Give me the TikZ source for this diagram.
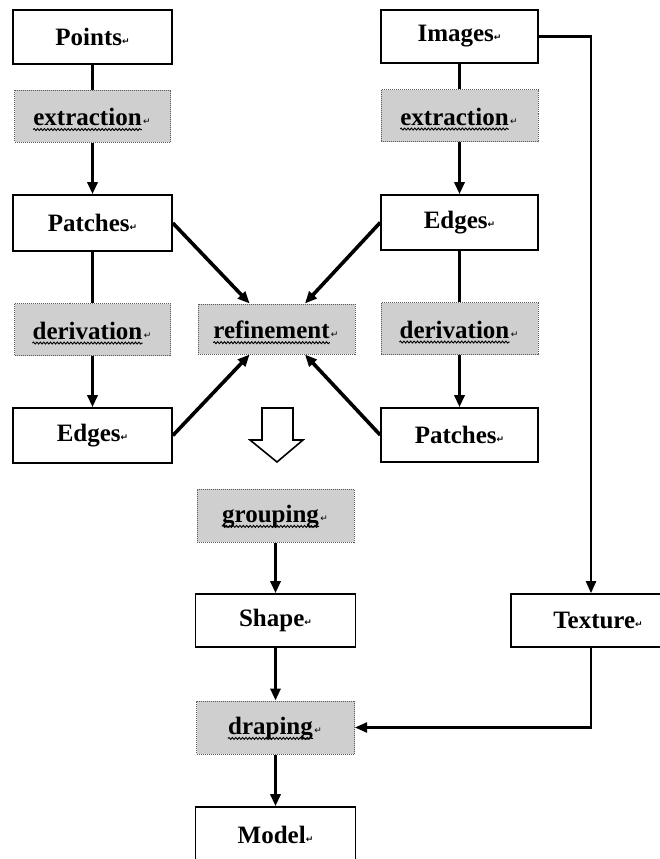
\documentclass[tikz,border=0pt]{standalone}
\usepackage{fontspec}
\setmainfont{Liberation Serif}
\newfontfamily\symfont{DejaVu Sans}
\usetikzlibrary{arrows.meta,calc,decorations.pathmorphing}
\newcommand{\ret}{{\fontsize{9}{9}\selectfont\symfont\raisebox{1pt}{↵}}}
\tikzset{
  box/.style={draw=black, line width=1.6pt, fill=white, minimum width=159pt, minimum height=54pt, inner sep=0pt,
    font=\fontsize{25}{29}\selectfont\bfseries},
  procbox/.style={draw=black!65, densely dotted, line width=1pt, fill=black!19, minimum width=156pt, minimum height=52pt, inner sep=0pt},
  ptxt/.style={inner sep=0pt, font=\fontsize{25}{29}\selectfont\bfseries},
  rettxt/.style={inner sep=0pt, xshift=1pt},
  wave/.style={line width=0.9pt, decorate, decoration={snake, amplitude=1pt, segment length=3.4pt}},
  conn/.style={line width=3.6pt},
  arr/.style={line width=3.6pt, -{Triangle[length=12pt,width=10pt]}},
  thinarr/.style={line width=2.2pt, -{Triangle[length=12pt,width=10pt]}},
}
% \procstep[options]{name}{position}{text}
\newcommand{\procstep}[4][]{%
  \node[procbox,#1] (#2) at (#3) {};
  \node[ptxt] (#2t) at ([xshift=-5pt,yshift=-1pt]#2.center) {#4};
  \node[rettxt, anchor=base west] (#2r) at (#2t.base east) {\ret};
  \draw[wave] ([yshift=-4pt]#2t.base west) -- ([yshift=-4pt]#2t.base east);
}
\begin{document}
\begin{tikzpicture}[x=1pt,y=-1pt]
\useasboundingbox (0,0) rectangle (660,859);
\clip (0,0) rectangle (660,859);
% left column
\node[box] (points) at (92.5,37) {Points\ret};
\procstep{ext1}{92.5,116}{extraction}
\node[box, minimum height=56pt] (patchesL) at (92.5,223) {Patches\ret};
\procstep{der1}{92.5,329.5}{derivation}
\node[box, minimum height=55pt] (edgesL) at (92.5,435.5) {Edges\ret};
% right column
\node[box, minimum width=157pt, minimum height=53pt] (images) at (459.5,36.5) {Images\ret};
\procstep[minimum width=157pt]{ext2}{459.5,115.5}{extraction}
\node[box, minimum width=157pt, minimum height=55pt] (edgesR) at (459.5,222.5) {Edges\ret};
\procstep[minimum width=157pt]{der2}{459.5,328.5}{derivation}
\node[box, minimum width=157pt] (patchesR) at (459.5,435) {Patches\ret};
% middle
\procstep[minimum width=157pt, minimum height=50pt]{refine}{276.5,329}{refinement}
\procstep[minimum width=157pt, minimum height=53pt]{grouping}{275.5,515.5}{grouping}
\node[box, minimum width=160pt, minimum height=53pt] (shape) at (275.5,620.5) {Shape\ret};
\node[box, minimum width=160pt, minimum height=53pt] (texture) at (591,620.5) {\hspace*{14pt}Texture\ret};
\procstep[minimum width=158pt, minimum height=53pt]{draping}{275.5,727.5}{draping}
\node[box, minimum width=160pt, minimum height=56pt] (model) at (275.5,835) {Model\ret};
% vertical connectors
\draw[conn] (points.south) -- (ext1.north);
\draw[arr] (ext1.south) -- (patchesL.north);
\draw[conn] (patchesL.south) -- (der1.north);
\draw[arr] (der1.south) -- (edgesL.north);
\draw[conn] (images.south) -- (ext2.north);
\draw[arr] (ext2.south) -- (edgesR.north);
\draw[conn] (edgesR.south) -- (der2.north);
\draw[arr] (der2.south) -- (patchesR.north);
\draw[arr] (grouping.south) -- (shape.north);
\draw[arr] (shape.south) -- (draping.north);
\draw[arr] (draping.south) -- (model.north);
% diagonals into refinement
\coordinate (rtl) at ($(refine.north west)!0.33!(refine.north east)$);
\coordinate (rtr) at ($(refine.north west)!0.68!(refine.north east)$);
\coordinate (rbl) at ($(refine.south west)!0.33!(refine.south east)$);
\coordinate (rbr) at ($(refine.south west)!0.68!(refine.south east)$);
\draw[arr] (patchesL.east) -- (rtl);
\draw[arr] (edgesR.west) -- (rtr);
\draw[arr] (edgesL.east) -- (rbl);
\draw[arr] (patchesR.west) -- (rbr);
% texture path
\draw[thinarr] (images.east) -| (texture.north);
\draw[thinarr] (texture.south) |- (draping.east);
% hollow arrow
\draw[line width=1.6pt, fill=white, line join=miter]
  (262,408) -- (293,408) -- (293,440) -- (303,440) -- (277,462) -- (250,440) -- (262,440) -- cycle;
\end{tikzpicture}
\end{document}
